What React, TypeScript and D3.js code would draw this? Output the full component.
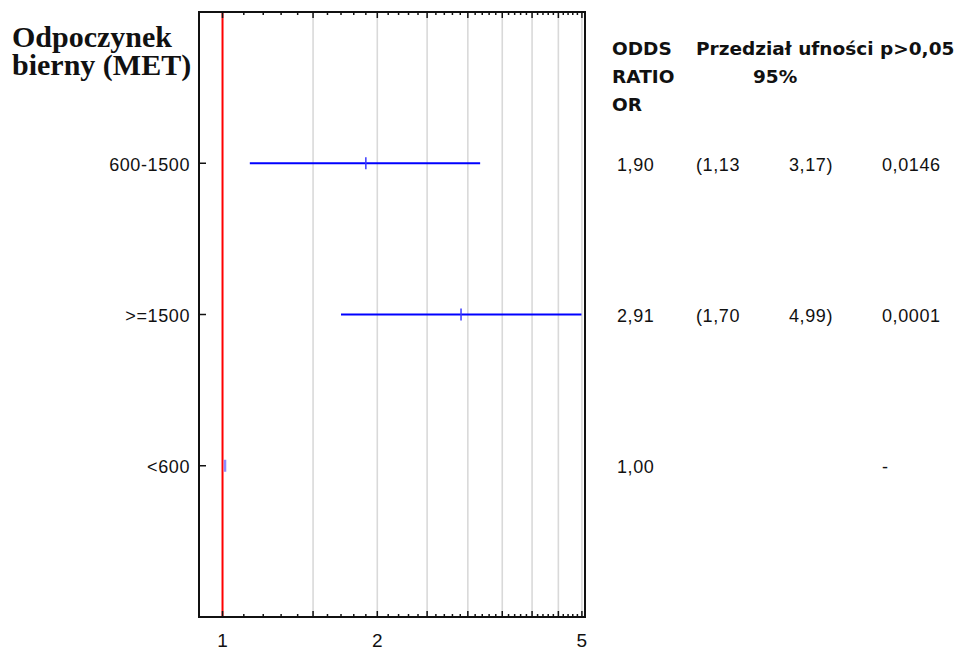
import React from "react";
import * as d3 from "d3";

// Odds ratios with 95% confidence intervals per activity category
const categories = ["600-1500", ">=1500", "<600"];
const oddsRatio = [1.9, 2.91, 1.0];
const ciLower: (number | null)[] = [1.13, 1.7, null];
const ciUpper: (number | null)[] = [3.17, 4.99, null];
const pValues = ["0,0146", "0,0001", "-"];
const xTickLabels = [1, 2, 5];

const W = 962;
const H = 650;
const plot = { left: 199, right: 585, top: 12, bottom: 617 };

const fmt = (v: number) => d3.format(".2f")(v).replace(".", ",");

export default function App() {
  const x = d3.scaleLog().domain([0.9, 5.07]).range([plot.left, plot.right]);
  const y = d3
    .scalePoint<string>()
    .domain(categories)
    .range([plot.top, plot.bottom])
    .padding(1);

  const minorTicks = d3.range(10, 51).map((v) => v / 10);
  const gridValues = d3.range(15, 51, 5).map((v) => v / 10);
  const isMajor = (v: number) => Math.round(v * 10) % 5 === 0;

  const sans = "'Liberation Sans', Arial, sans-serif";
  const headFont = "'DejaVu Sans', Tahoma, sans-serif";
  const valueStyle = { fontFamily: sans, fontSize: 18, letterSpacing: 0.6, fill: "#111" };
  const headStyle = { fontFamily: headFont, fontSize: 18.5, fontWeight: 700, fill: "#111" };

  const col = { or: 617, lo: 696, hi: 789, p: 882 };

  return (
    <svg
      width={W}
      height={H}
      style={{ position: "absolute", left: 0, top: 0, background: "#fff" }}
    >
      <rect width={W} height={H} fill="#fff" />

      {/* title */}
      <text
        x={12}
        y={47}
        style={{ fontFamily: "'Liberation Serif', 'Times New Roman', serif", fontSize: 30, fontWeight: 700 }}
        fill="#111"
      >
        <tspan x={12} y={47}>Odpoczynek</tspan>
        <tspan x={12} y={75}>bierny (MET)</tspan>
      </text>

      {/* vertical gridlines */}
      {gridValues.map((v) => (
        <line
          key={"g" + v}
          x1={x(v)}
          x2={x(v)}
          y1={plot.top}
          y2={plot.bottom}
          stroke="#d9d9d9"
          strokeWidth={1.6}
        />
      ))}

      {/* reference line at OR = 1 */}
      <line x1={x(1)} x2={x(1)} y1={plot.top} y2={plot.bottom} stroke="#ff0000" strokeWidth={2} />

      {/* confidence intervals and point estimates */}
      {categories.map((c, i) => {
        const cy = y(c)!;
        const lo = ciLower[i];
        const hi = ciUpper[i];
        if (lo == null || hi == null) {
          return (
            <line
              key={c}
              x1={x(oddsRatio[i]) + 2.5}
              x2={x(oddsRatio[i]) + 2.5}
              y1={cy - 6}
              y2={cy + 6}
              stroke="#8c8cff"
              strokeWidth={2.5}
            />
          );
        }
        return (
          <g key={c}>
            <line
              x1={x(lo)}
              x2={Math.min(x(hi), plot.right)}
              y1={cy}
              y2={cy}
              stroke="#0000ff"
              strokeWidth={2}
            />
            <line
              x1={x(oddsRatio[i])}
              x2={x(oddsRatio[i])}
              y1={cy - 6}
              y2={cy + 6}
              stroke="#3a3aff"
              strokeWidth={1.5}
            />
          </g>
        );
      })}

      {/* frame */}
      <rect
        x={plot.left}
        y={plot.top}
        width={plot.right - plot.left}
        height={plot.bottom - plot.top}
        fill="none"
        stroke="#111"
        strokeWidth={2}
      />

      {/* bottom and top log ticks, pointing inward */}
      {minorTicks.map((v) => {
        const len = isMajor(v) ? 6 : 3;
        return (
          <g key={"t" + v}>
            <line x1={x(v)} x2={x(v)} y1={plot.bottom} y2={plot.bottom - len} stroke="#111" strokeWidth={1.5} />
            <line x1={x(v)} x2={x(v)} y1={plot.top} y2={plot.top + len} stroke="#111" strokeWidth={1.5} />
          </g>
        );
      })}

      {/* x tick labels */}
      {xTickLabels.map((v) => (
        <text key={"xl" + v} x={x(v)} y={647} textAnchor="middle" style={{ fontFamily: sans, fontSize: 19, fill: "#111" }}>
          {v}
        </text>
      ))}

      {/* y axis ticks and labels */}
      {categories.map((c) => (
        <g key={"y" + c}>
          <line x1={plot.left} x2={plot.left + 7} y1={y(c)} y2={y(c)} stroke="#111" strokeWidth={1.5} />
          <text x={190} y={y(c)! + 7.5} textAnchor="end" style={valueStyle}>
            {c}
          </text>
        </g>
      ))}

      {/* table header */}
      <text style={headStyle}>
        <tspan x={612} y={55}>ODDS</tspan>
        <tspan x={612} y={83}>RATIO</tspan>
        <tspan x={612} y={111}>OR</tspan>
      </text>
      <text style={headStyle}>
        <tspan x={696} y={55}>Przedział ufności</tspan>
        <tspan x={753} y={83}>95%</tspan>
      </text>
      <text x={880} y={55} style={headStyle}>
        p&gt;0,05
      </text>

      {/* table rows */}
      {categories.map((c, i) => {
        const by = y(c)! + 7.5;
        const lo = ciLower[i];
        const hi = ciUpper[i];
        return (
          <g key={"r" + c}>
            <text x={col.or} y={by} style={valueStyle}>
              {fmt(oddsRatio[i])}
            </text>
            {lo != null && (
              <text x={col.lo} y={by} style={valueStyle}>
                {"(" + fmt(lo)}
              </text>
            )}
            {hi != null && (
              <text x={col.hi} y={by} style={valueStyle}>
                {fmt(hi) + ")"}
              </text>
            )}
            <text x={col.p} y={by} style={valueStyle}>
              {pValues[i]}
            </text>
          </g>
        );
      })}
    </svg>
  );
}
